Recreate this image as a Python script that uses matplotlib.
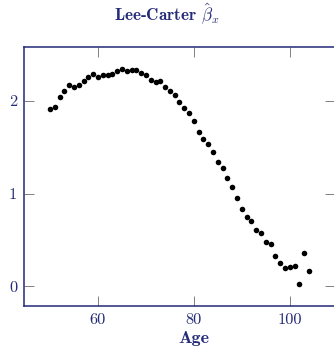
import matplotlib
matplotlib.use("Agg")
import matplotlib.pyplot as plt

ages = list(range(50, 105))
beta = [1.914, 1.938, 2.040, 2.105, 2.176, 2.148, 2.173, 2.219, 2.263, 2.292,
        2.256, 2.284, 2.278, 2.295, 2.328, 2.350, 2.326, 2.338, 2.335, 2.303,
        2.284, 2.227, 2.202, 2.213, 2.155, 2.111, 2.065, 1.992, 1.924, 1.870,
        1.781, 1.668, 1.589, 1.535, 1.445, 1.344, 1.276, 1.171, 1.078, 0.959,
        0.836, 0.749, 0.710, 0.613, 0.581, 0.476, 0.454, 0.324, 0.256, 0.198,
        0.209, 0.219, 0.022, 0.360, 0.162]
xticks = [60, 80, 100]
yticks = [0, 1, 2]

navy = '#232a78'
plt.rcParams['mathtext.fontset'] = 'cm'
plt.rcParams['axes.unicode_minus'] = False

fig = plt.figure(figsize=(3.34, 3.51), dpi=100)
ax = fig.add_axes([24/334, 45/351, 311/334, 259/351])
ax.plot(ages, beta, 'o', color='black', markersize=4.0, markeredgewidth=0)

xmin, xmax = min(ages), max(ages)
ymin, ymax = min(beta), max(beta)
dx, dy = 0.1*(xmax-xmin), 0.1*(ymax-ymin)
ax.set_xlim(xmin-dx, xmax+dx)
ax.set_ylim(ymin-dy, ymax+dy)
ax.set_xticks(xticks)
ax.set_yticks(yticks)
ax.set_xticklabels([str(t) for t in xticks], fontfamily='cmr10', fontsize=11.8, color=navy)
ax.set_yticklabels([str(t) for t in yticks], fontfamily='cmr10', fontsize=11.8, color=navy)
ax.tick_params(direction='in', length=7.2, width=0.7, color='#808080',
               top=True, right=True, pad=5)
for s in ax.spines.values():
    s.set_color(navy)
    s.set_linewidth(1.1)

fig.text(0.5, 1-14/351, r'Lee-Carter $\hat{\beta}_x$', ha='center', va='center',
         fontfamily='cmb10', fontsize=12.3, color=navy)
fig.text(194/334, 1-338/351, 'Age',
         ha='center', va='center', fontfamily='cmb10', fontsize=13, color=navy)

fig.savefig('out.png', dpi=100)
